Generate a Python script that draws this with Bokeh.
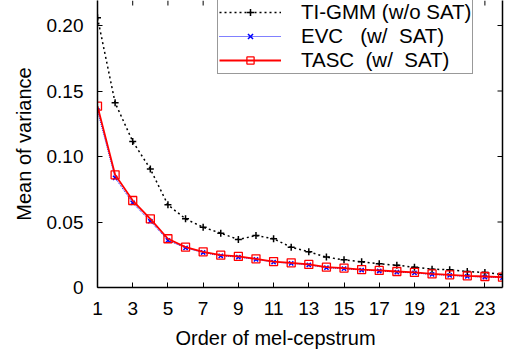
import math
from bokeh.plotting import figure
from bokeh.models import (LinearAxis, FixedTicker, Range1d, Legend, LegendItem,
                          CustomJSTickFormatter, Title)
from bokeh.embed import file_html
from bokeh.resources import INLINE

# ---- data ----
order = list(range(1, 25))
ti_gmm = [0.206, 0.141, 0.1115, 0.0905, 0.0631, 0.0524, 0.0460, 0.0415, 0.0366, 0.0397,
          0.0372, 0.0308, 0.0272, 0.0232, 0.0211, 0.0196, 0.0181, 0.0170, 0.0155, 0.0140,
          0.0135, 0.0122, 0.0115, 0.0099]
evc = [0.1351, 0.0837, 0.0646, 0.0506, 0.0360, 0.0302, 0.0267, 0.0242, 0.0232, 0.0214,
       0.0194, 0.0184, 0.0172, 0.0151, 0.0144, 0.0133, 0.0126, 0.0118, 0.0111, 0.0100,
       0.0093, 0.0085, 0.0080, 0.0075]
tasc = [0.1384, 0.0860, 0.0664, 0.0524, 0.0372, 0.0308, 0.0272, 0.0247, 0.0237, 0.0219,
        0.0198, 0.0188, 0.0176, 0.0155, 0.0148, 0.0137, 0.0130, 0.0122, 0.0115, 0.0104,
        0.0097, 0.0089, 0.0084, 0.0079]
series_names = ["TI-GMM (w/o SAT)", "EVC   (w/  SAT)", "TASC  (w/  SAT)"]
x_ticks = [1, 3, 5, 7, 9, 11, 13, 15, 17, 19, 21, 23]
y_ticks = [0, 0.05, 0.10, 0.15, 0.20]
y_tick_labels = ["0", "0.05", "0.10", "0.15", "0.20"]
x_title = "Order of mel-cepstrum"
y_title = "Mean of variance"
X_MIN, X_MAX = 1, 24
Y_MIN, Y_MAX = 0, 0.2191

FONT = "Liberation Sans"

p = figure(width=513, height=358, output_backend="svg", toolbar_location=None,
           x_range=Range1d(X_MIN, X_MAX), y_range=Range1d(Y_MIN, Y_MAX),
           min_border_left=97, min_border_right=11, min_border_top=0, min_border_bottom=71,
           x_axis_location=None, y_axis_location=None)
p.outline_line_color = None
p.xgrid.visible = False
p.ygrid.visible = False
p.background_fill_color = "white"
p.border_fill_color = "white"

fmt = CustomJSTickFormatter(args=dict(vals=y_ticks, labs=y_tick_labels), code="""
    for (let i = 0; i < vals.length; i++) { if (Math.abs(vals[i] - tick) < 1e-9) return labs[i]; }
    return tick.toFixed(2);
""")

def style(ax):
    ax.axis_line_color = "black"
    ax.axis_line_width = 1.5
    ax.major_tick_line_color = "black"
    ax.major_tick_line_width = 1
    ax.major_tick_in = 5
    ax.major_tick_out = 0
    ax.minor_tick_line_color = None
    ax.major_label_text_font = FONT
    ax.major_label_text_font_size = "19px"
    ax.major_label_text_color = "black"
    ax.axis_label_text_font = FONT
    ax.axis_label_text_font_size = "20px"
    ax.axis_label_text_font_style = "normal"
    ax.axis_label_text_color = "black"

xb = LinearAxis(ticker=FixedTicker(ticks=x_ticks))
style(xb)
xb.major_label_standoff = 14
p.add_layout(xb, "below")

# x-axis title, slightly left of the frame centre as in the original
xt = Title(text=x_title, align="left", offset=78, standoff=14,
           text_font=FONT, text_font_size="20px", text_font_style="normal",
           text_color="black")
p.add_layout(xt, "below")

yl = LinearAxis(ticker=FixedTicker(ticks=y_ticks), formatter=fmt, axis_label=y_title)
style(yl)
yl.major_label_standoff = 14
yl.axis_label_standoff = 9
p.add_layout(yl, "left")

# right border line (ticks drawn as inward rays below)
yr = LinearAxis(ticker=FixedTicker(ticks=[]))
yr.axis_line_color = "black"
yr.axis_line_width = 1.5
yr.major_tick_line_color = None
yr.minor_tick_line_color = None
p.add_layout(yr, "right")

# mirrored inward tick marks on the right and top edges
p.ray(x=[X_MAX] * len(y_ticks), y=y_ticks, length=5, length_units="screen",
      angle=math.pi, line_color="black", line_width=1)
p.ray(x=x_ticks, y=[Y_MAX] * len(x_ticks), length=5, length_units="screen",
      angle=-math.pi / 2, line_color="black", line_width=1)

# ---- series ----
l1 = p.line(order, ti_gmm, line_color="black", line_width=1.5, line_dash="2 3")
m1 = p.scatter(order, ti_gmm, marker="cross", size=7, line_color="black", line_width=1.5)

l2 = p.line(order, evc, line_color="blue", line_width=1, line_dash="1 1")
m2 = p.scatter(order, evc, marker="x", size=6, line_color="blue", line_width=1.5)

l3 = p.line(order, tasc, line_color="red", line_width=1.8)
m3 = p.scatter(order, tasc, marker="square", size=8, line_color="red", line_width=1.3,
               fill_alpha=0)

legend = Legend(items=[
    LegendItem(label=series_names[0], renderers=[l1, m1]),
    LegendItem(label=series_names[1], renderers=[l2, m2]),
    LegendItem(label=series_names[2], renderers=[l3, m3]),
], location=(120, 213))
legend.label_text_font = FONT
legend.label_text_font_size = "20.5px"
legend.label_text_color = "black"
legend.glyph_width = 62
legend.glyph_height = 18
legend.label_height = 18
legend.label_standoff = 20
legend.spacing = -2
legend.padding = 1
legend.margin = 0
legend.border_line_color = "#333333"
legend.border_line_width = 1.2
legend.background_fill_color = "white"
legend.background_fill_alpha = 1
p.add_layout(legend)

open("out.html", "w").write(file_html(p, INLINE))
